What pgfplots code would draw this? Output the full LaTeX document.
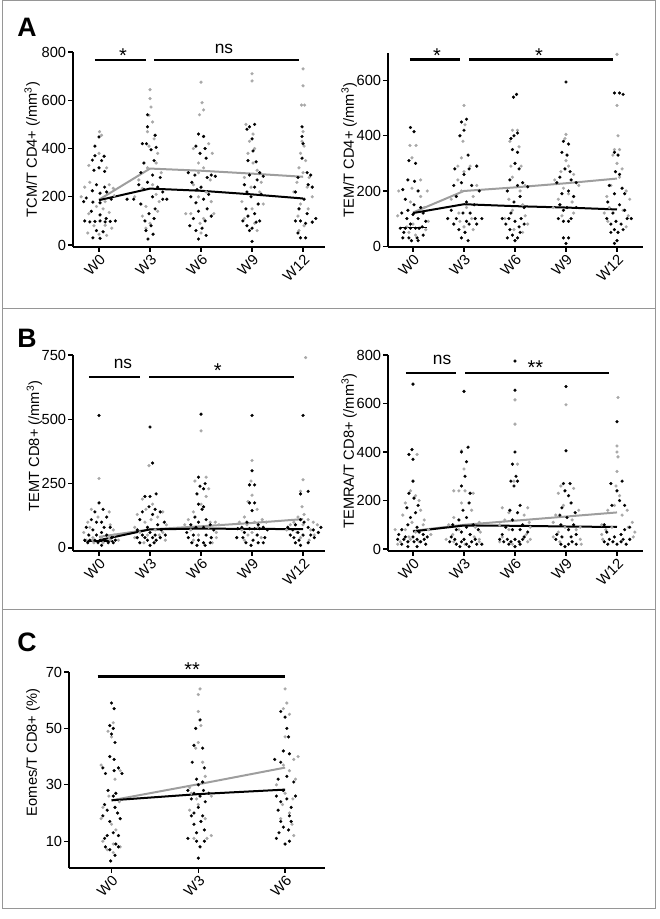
\documentclass[border=0pt]{standalone}
\usepackage{pgfplots}
\pgfplotsset{compat=1.18}
\usepackage{fontspec}
\setmainfont{Liberation Sans}
\definecolor{dotgray}{RGB}{168,168,168}
\definecolor{linegray}{RGB}{158,158,158}
\definecolor{framegray}{RGB}{150,150,150}
\pgfplotsset{
  beeswarm/.style={
    scale only axis,
    axis x line=bottom, axis y line=left,
    axis line style={line width=1pt, -},
    tick style={black, line width=0.9pt},
    tick align=outside, major tick length=3.5pt,
    xtick={0,1,2,3,4}, xticklabels={W0,W3,W6,W9,W12},
    xticklabel style={rotate=45, anchor=north east, inner sep=1pt, font=\fontsize{11}{13}\selectfont},
    yticklabel style={font=\fontsize{11}{13}\selectfont, inner sep=1.5pt},
    /pgf/number format/assume math mode=true,
    ylabel style={font=\fontsize{11}{13}\selectfont, anchor=center},
    clip=false,
  },
  blk/.style={only marks, color=black, mark=*, mark size=1.1pt, mark options={draw=black, fill=black, line width=0.2pt}},
  gry/.style={only marks, color=dotgray, mark=*, mark size=1.1pt, mark options={draw=dotgray, fill=dotgray, line width=0.2pt}},
  blkline/.style={black, line width=1.5pt, no marks},
  gryline/.style={linegray, line width=1.5pt, no marks},
}
\newcommand{\sig}{\fontsize{15}{15}\selectfont}
\newcommand{\nsf}{\fontsize{13}{13}\selectfont}
\begin{document}
\begin{tikzpicture}
\useasboundingbox (0,0) rectangle (494.25pt,-689.25pt);
% frame
\draw[framegray, line width=0.75pt] (1.5pt,-0.75pt) rectangle (491.25pt,-681pt);
\draw[framegray, line width=0.75pt] (1.5pt,-231.75pt) -- (491.25pt,-231.75pt);
\draw[framegray, line width=0.75pt] (1.5pt,-456.75pt) -- (491.25pt,-456.75pt);
% panel letters
\node[anchor=base west, inner sep=0pt, font=\fontsize{20}{20}\selectfont\bfseries] at (12.75pt,-27.75pt) {A};
\node[anchor=base west, inner sep=0pt, font=\fontsize{20}{20}\selectfont\bfseries] at (12.75pt,-260.25pt) {B};
\node[anchor=base west, inner sep=0pt, font=\fontsize{20}{20}\selectfont\bfseries] at (12.75pt,-488.6pt) {C};

% ---------------- A left ----------------
\begin{axis}[beeswarm, at={(54.75pt,-185.25pt)}, anchor=south west,
  width=189pt, height=146.25pt, xmin=-0.51, xmax=4.43, ymin=-8, ymax=800,
  ytick={0,200,400,600,800},
  ylabel={TCM/T CD4+ (/mm\textsuperscript{3})},
  ylabel style={at={(axis description cs:-0.162,0.5)}}]
\addplot[gry] coordinates {
(0.01,470) (0.05,455) (0,380) (-0.2,330) (0.15,320) (-0.18,260) (0.2,250) (-0.28,240) (0.28,235) (-0.35,200) (0.3,205) (0.12,180) (-0.05,160) (0.08,150) (-0.2,130) (0.2,135) (-0.1,80) (0.12,82) (0.25,70) (-0.22,50) (0.15,40) (0,45)
(1,644) (1,607) (1.02,572) (0.98,538) (1.05,510) (0.95,470) (1.08,440) (0.98,410) (1.15,380) (1.12,340) (0.95,320) (1.22,300) (0.78,270) (1.05,250) (0.85,235) (1.12,210) (0.7,200) (1.18,180) (0.92,160) (1.15,140) (0.85,120) (1,90) (0.92,70)
(2,675) (2.02,590) (2.05,560) (1.97,540) (2.05,450) (2.15,420) (1.85,400) (2.22,380) (1.95,340) (2.05,320) (1.95,300) (2.18,270) (1.85,250) (2.1,220) (1.95,200) (2.2,180) (1.7,130) (1.8,130) (2.25,130) (2.05,110) (1.98,90) (2,50)
(3,710) (3,680) (2.88,500) (3.02,460) (2.95,430) (3.05,400) (2.92,380) (3.02,340) (3.1,310) (2.85,280) (3.18,260) (2.98,240) (3.15,220) (2.8,180) (3.22,170) (3,150) (2.85,110) (3.05,90) (3.1,60)
(4,730) (4,660) (3.97,580) (4.03,580) (4,470) (3.98,430) (4.02,410) (3.95,380) (4.05,350) (3.92,320) (4,300) (4.12,280) (3.88,260) (4.08,240) (3.82,220) (4.18,200) (3.95,170) (4.1,150) (3.9,120) (4.02,80) (3.92,60)
};
\addplot[blk] coordinates {
(0,448) (-0.08,410) (-0.08,370) (0.1,368) (0.05,350) (-0.13,352) (0,320) (-0.1,310) (0.11,305) (-0.05,250) (0.11,240) (-0.13,225) (0.02,215) (0.15,220) (-0.25,195) (-0.3,180) (0.24,190) (-0.12,178) (0.02,175) (-0.15,140) (0.02,125) (0.14,110) (-0.28,100) (-0.18,96) (-0.08,98) (0.02,100) (0.12,96) (0.22,98) (0.32,100) (-0.05,60) (0.08,55) (-0.12,30) (0.02,28)
(0.95,540) (0.95,490) (1.1,455) (0.85,420) (0.93,420) (1.12,405) (1.02,395) (1.08,350) (0.88,340) (0.82,300) (1.05,290) (1.2,280) (0.95,260) (0.78,250) (1.15,240) (0.88,230) (1.25,220) (1.05,200) (0.55,190) (0.68,190) (1.25,190) (1.33,190) (0.82,170) (1.1,150) (0.98,130) (1.08,110) (0.9,100) (1.02,80) (0.92,60) (1.06,45) (0.96,25)
(1.95,460) (2.05,450) (1.9,410) (2.08,400) (1.98,380) (2.1,360) (1.75,300) (1.88,290) (2.2,290) (2.28,285) (2.12,280) (1.82,260) (2,240) (1.92,230) (2.15,210) (1.8,200) (2.05,190) (1.9,175) (2.12,150) (1.95,140) (2.2,120) (1.85,110) (2.08,100) (1.78,80) (2.02,70) (1.9,60) (2.1,40) (1.95,25)
(3.05,500) (2.95,490) (2.9,480) (3,440) (3.02,390) (2.92,350) (3.08,345) (3.15,300) (2.95,290) (3.22,285) (3.1,270) (2.85,250) (3.05,240) (2.9,220) (3.18,210) (2.98,200) (3.12,170) (2.88,150) (3.05,130) (2.92,120) (2.82,100) (3.08,95) (3.15,100) (2.9,80) (3,70) (2.95,60) (3,15)
(3.98,490) (3.98,450) (4,420) (3.98,360) (4.08,300) (4.15,290) (3.9,280) (4.1,250) (4.18,240) (3.85,220) (4.02,190) (3.92,150) (4.08,130) (4.25,110) (3.85,100) (3.95,100) (4.18,95) (4.05,90) (3.9,50) (3.95,30) (4.05,30)
};
\addplot[gryline] coordinates {(0,188) (1,317) (2,308) (3,296) (4,283)};
\addplot[blkline] coordinates {(0,186) (1,234) (2,225) (3,210) (4,193)};
\draw[line width=2pt] (axis cs:-0.08,767) -- (axis cs:0.92,767);
\draw[line width=2pt] (axis cs:1.08,767) -- (axis cs:3.92,767);
\node[anchor=base, inner sep=0pt, font=\sig] at (axis cs:0.47,756) {*};
\node[anchor=base, inner sep=0pt, font=\nsf] at (axis cs:2.45,792) {ns};
\end{axis}

% ---------------- A right ----------------
\begin{axis}[beeswarm, at={(291pt,-185.25pt)}, anchor=south west,
  width=191.25pt, height=145.5pt, xmin=-0.49, xmax=4.51, ymin=-3, ymax=700,
  ytick={0,200,400,600},
  ylabel={TEM/T CD4+ (/mm\textsuperscript{3})},
  ylabel style={at={(axis description cs:-0.152,0.5)}}]
\addplot[gry] coordinates {
(-0.06,365) (0.06,365) (-0.02,320) (0.15,240) (-0.02,210) (-0.28,200) (0.28,200) (0.15,180) (-0.05,160) (0.22,140) (-0.3,110) (0.3,90) (0,80) (-0.12,70) (0.25,60) (-0.08,50) (0.05,40)
(1,510) (1.02,440) (0.98,380) (0.95,320) (0.88,290) (1.12,290) (1,270) (0.88,240) (1.25,220) (0.95,200) (1.18,180) (0.75,170) (1.05,140) (0.9,120) (1.15,100) (0.92,90) (1,70) (1.18,60)
(1.95,420) (2.05,420) (1.9,380) (2.08,360) (1.92,290) (2.12,290) (1.95,250) (2.2,220) (2.1,200) (1.88,170) (2.15,150) (1.95,130) (2.2,110) (1.8,100) (2.25,80) (1.98,60) (2.15,50)
(3,405) (2.98,390) (3,310) (3.05,290) (2.9,270) (3.15,260) (2.78,240) (3.25,220) (2.95,210) (3.05,190) (2.85,170) (3.12,160) (2.75,140) (3.15,120) (2.92,110)
(4,695) (4,510) (4.02,400) (3.95,350) (4.05,350) (3.92,330) (4,300) (4.1,280) (4.05,250) (3.88,220) (4.18,200) (3.8,180) (4.25,170) (3.85,140) (4.12,130) (3.75,120) (4.22,110) (3.82,90) (4.18,70)
};
\addplot[blk] coordinates {
(-0.05,430) (0.02,415) (-0.08,310) (0.05,300) (-0.1,240) (0.03,235) (-0.2,205) (0.1,200) (-0.15,170) (0.02,150) (0.15,140) (-0.1,130) (-0.22,120) (0.2,120) (0,115) (-0.12,100) (0.1,100) (0.25,90) (-0.05,80) (0.18,70) (-0.25,65) (-0.15,65) (-0.05,65) (0.05,65) (0.12,65) (-0.18,50) (0.2,40) (-0.2,30) (-0.08,30) (0.08,30) (-0.03,20) (0.1,20)
(1.05,460) (0.95,450) (1,420) (0.92,400) (1.08,330) (1.25,290) (0.82,280) (1.1,280) (1,260) (0.95,230) (0.8,220) (1.15,220) (1.3,200) (0.85,180) (1.05,160) (1.2,150) (0.75,130) (0.98,120) (1.12,120) (0.68,100) (0.85,100) (1.22,100) (1.35,100) (1.05,90) (0.8,80) (1.1,80) (1.25,80) (0.9,60) (1.02,50) (0.95,30) (1.08,20)
(2.03,550) (1.97,540) (2.05,410) (1.98,400) (1.92,390) (1.95,350) (2.05,340) (2,300) (2.08,280) (1.9,240) (2.15,230) (2.05,220) (2.25,215) (1.85,200) (2.1,180) (1.98,160) (2.18,140) (1.92,120) (1.75,100) (1.88,100) (2.12,100) (2,90) (1.82,80) (2.18,80) (2.08,70) (1.9,60) (2.1,50) (1.95,40) (1.85,30) (2.05,30) (2,20)
(3,595) (2.95,380) (3.05,370) (2.92,340) (3.02,330) (2.98,280) (3.08,270) (2.88,250) (3.1,240) (2.82,230) (3.2,230) (3.05,200) (2.92,190) (3.15,180) (2.88,150) (3.02,140) (3.2,140) (2.95,130) (2.85,100) (3.1,100) (2.95,90) (3.05,90) (2.95,30) (3.05,30) (3,10)
(3.95,555) (4.05,555) (4.12,550) (3.95,340) (4.02,330) (3.97,270) (4.05,260) (3.85,220) (4.1,210) (3.95,190) (4.15,190) (3.82,160) (4.05,150) (4.15,130) (3.92,120) (3.8,100) (4.2,100) (4.28,100) (3.98,90) (3.88,80) (4.08,80) (3.95,60) (4.12,60) (3.88,50) (4.02,50) (4,20) (3.95,10)
};
\addplot[blkline, line width=1.2pt] coordinates {(-0.25,67) (0.28,67)};
\addplot[gryline] coordinates {(0,122) (1,200) (2,213) (3,228) (4,245)};
\addplot[blkline] coordinates {(0,120) (1,152) (2,145) (3,140) (4,133)};
\draw[line width=2pt] (axis cs:-0.06,676) -- (axis cs:0.92,676);
\draw[line width=2pt] (axis cs:1.1,676) -- (axis cs:3.92,676);
\node[anchor=base, inner sep=0pt, font=\sig] at (axis cs:0.47,665) {*};
\node[anchor=base, inner sep=0pt, font=\sig] at (axis cs:2.47,665) {*};
\end{axis}

% ---------------- B left ----------------
\begin{axis}[beeswarm, at={(54.75pt,-413.25pt)}, anchor=south west,
  width=189pt, height=147pt, xmin=-0.51, xmax=4.43, ymin=-12, ymax=750,
  ytick={0,250,500,750},
  ylabel={TEMT CD8+ (/mm\textsuperscript{3})},
  ylabel style={at={(axis description cs:-0.153,0.536)}}]
\addplot[gry] coordinates {
(0,270) (-0.15,150) (0.2,140) (-0.02,120) (-0.22,100) (0.22,90) (-0.18,80) (0.28,70) (-0.3,60) (0.3,50) (-0.12,40) (0.05,40) (0.2,40) (-0.25,30) (-0.13,30) (0.22,30) (0.38,30) (0.08,20) (-0.1,20)
(0.98,320) (0.85,190) (1.05,170) (0.92,150) (1.25,140) (0.75,130) (1.15,120) (1.02,110) (0.9,100) (1.32,90) (0.7,80) (1.1,70) (0.8,60) (1.25,60) (0.95,50) (1.18,50) (0.7,40) (1.3,30) (0.88,20)
(2,455) (2.1,275) (1.88,260) (2.15,230) (2.1,200) (2,170) (1.85,140) (1.75,110) (2.28,100) (2.18,100) (1.68,90) (2.35,90) (2.15,80) (1.8,70) (2.3,60) (1.95,50) (2.3,40) (1.85,30) (2.22,20)
(3,340) (2.98,260) (3,205) (2.92,180) (3.1,150) (2.85,120) (3.2,110) (2.75,100) (3.28,100) (3.05,100) (2.9,90) (3.12,80) (2.8,70) (3,60) (2.92,50) (3.18,40) (2.85,30)
(4.05,740) (4,265) (3.95,220) (3.98,160) (4.02,130) (3.9,120) (4.1,110) (3.82,100) (4.2,100) (3.75,90) (4,90) (4.28,90) (4.35,80) (3.68,70) (4.15,70) (3.88,60) (4.22,50) (3.95,40) (4.12,30)
};
\addplot[blk] coordinates {
(0,515) (0,175) (0.08,150) (-0.08,140) (0.15,120) (-0.15,110) (0.05,100) (-0.05,100) (-0.25,80) (0.1,80) (0.22,80) (-0.12,70) (0.05,60) (-0.2,50) (0.15,50) (-0.05,50) (0.25,40) (-0.28,30) (-0.18,30) (-0.08,30) (0.02,30) (0.12,30) (0.32,30) (-0.22,20) (-0.02,20) (0.18,20) (0.28,20) (0.05,10)
(1,470) (1.05,330) (1.12,210) (0.9,200) (1,200) (0.98,160) (1.1,150) (0.85,140) (1.2,140) (1.05,130) (0.8,110) (1.28,100) (1.15,90) (0.95,80) (0.75,70) (1.22,70) (1,60) (0.85,50) (1.1,50) (1.3,50) (0.75,40) (0.9,40) (1.05,40) (1.2,40) (0.95,30) (1.12,30) (0.8,20) (1.08,20) (1,10)
(2,520) (1.95,275) (2.08,250) (1.98,240) (2.05,230) (1.92,210) (1.95,170) (2.05,160) (2.02,150) (1.88,120) (2.1,110) (1.95,100) (1.8,90) (2.18,90) (1.9,80) (2.05,80) (2.25,70) (1.72,60) (1.85,50) (2.1,50) (1.75,40) (2.2,40) (1.95,30) (1.82,20) (2.05,20) (2.18,20) (1.92,10) (2.08,10)
(3,515) (3,300) (2.95,245) (3.05,245) (2.95,175) (3.05,175) (3,145) (2.9,100) (3.12,90) (2.8,80) (3.22,80) (2.72,75) (2.95,75) (3.05,75) (3.15,75) (3.3,70) (2.85,60) (3.1,50) (2.7,40) (2.82,40) (3.25,40) (3.02,30) (2.88,20) (3.12,20) (3.22,20) (2.98,10)
(4,515) (4.1,220) (3.95,210) (3.95,110) (4.02,100) (3.85,90) (3.7,80) (4.1,80) (4.35,80) (3.8,70) (4.2,70) (3.9,60) (4.3,60) (3.75,50) (4,50) (4.15,50) (3.82,40) (4.22,40) (3.92,30) (3.85,20) (4.1,20) (3.95,10)
};
\addplot[blkline, line width=1.2pt] coordinates {(-0.3,26) (0.27,26)};
\addplot[gryline] coordinates {(0,43) (1,72) (2,84) (3,97) (4,112)};
\addplot[blkline] coordinates {(0,30) (1,72) (2,75) (3,74) (4,73)};
\draw[line width=2pt] (axis cs:-0.2,664) -- (axis cs:0.8,664);
\draw[line width=2pt] (axis cs:0.98,664) -- (axis cs:3.82,664);
\node[anchor=base, inner sep=0pt, font=\nsf] at (axis cs:0.47,698) {ns};
\node[anchor=base, inner sep=0pt, font=\sig] at (axis cs:2.33,663) {*};
\end{axis}

% ---------------- B right ----------------
\begin{axis}[beeswarm, at={(291pt,-413.25pt)}, anchor=south west,
  width=191.25pt, height=147pt, xmin=-0.49, xmax=4.51, ymin=-8, ymax=800,
  ytick={0,200,400,600,800},
  ylabel={TEMRA/T CD8+ (/mm\textsuperscript{3})},
  ylabel style={at={(axis description cs:-0.152,0.51)}}]
\addplot[gry] coordinates {
(0.08,390) (-0.05,240) (0.05,220) (0.12,200) (-0.15,190) (0.15,160) (-0.2,140) (0.22,120) (-0.02,110) (0.2,100) (-0.35,80) (-0.15,80) (0.3,80) (0.05,70) (0.35,60) (-0.08,50) (-0.05,40) (-0.25,30) (0.12,30) (-0.3,20)
(0.95,405) (1,330) (0.8,240) (0.9,240) (1.02,240) (1.18,230) (0.95,190) (1.15,160) (0.8,130) (1.3,110) (0.7,100) (1.22,90) (0.9,80) (1.32,70) (0.78,60) (1.2,50) (0.65,40) (1.3,40) (0.8,30) (1.3,30) (1.02,20)
(2,615) (2,515) (2.05,350) (1.98,280) (1.75,170) (2.25,170) (1.88,150) (2.18,140) (1.8,120) (2.28,110) (1.7,100) (2.3,90) (1.88,80) (2.22,60) (1.75,50) (2.3,40) (1.7,30) (2.25,30) (1.95,20)
(3,595) (2.9,260) (3.15,250) (2.85,230) (2.95,180) (3.25,160) (2.8,140) (3.12,120) (2.75,110) (3.28,90) (2.98,90) (3.2,80) (2.85,70) (2.75,50) (3.28,40) (2.88,30) (3.3,20)
(4.02,625) (4,425) (4,400) (4.02,380) (4,320) (3.98,260) (4.05,220) (3.95,180) (3.82,160) (4.2,160) (4.1,140) (4.3,110) (3.7,100) (4.22,90) (3.9,90) (3.78,80) (4.35,70) (3.7,60) (4.32,50) (3.72,40)
};
\addplot[blk] coordinates {
(0,680) (-0.02,410) (-0.08,390) (0,370) (0,280) (-0.08,230) (0.02,210) (0.1,180) (-0.12,170) (0.05,150) (-0.05,130) (-0.1,100) (0.08,90) (-0.22,80) (0.12,70) (-0.28,60) (0.2,60) (-0.15,50) (0,50) (0.28,50) (-0.3,40) (-0.18,40) (0.08,40) (0.22,40) (-0.1,30) (0.02,30) (0.15,30) (-0.22,20) (0.25,20) (-0.1,10) (0.08,10)
(1,650) (1.08,420) (0.95,400) (1.05,360) (1.02,300) (0.95,260) (1.12,230) (1.1,190) (0.98,160) (1.05,130) (0.9,120) (0.78,100) (1.18,100) (1.05,90) (0.85,80) (1.28,80) (0.95,70) (1.12,60) (0.75,50) (0.82,40) (1,40) (1.22,40) (0.72,30) (0.95,30) (1.15,30) (0.85,20) (1.05,20) (1.25,20) (1.35,20) (0.92,10) (1.1,10)
(2,775) (2,655) (2,400) (1.95,350) (2.02,300) (1.92,280) (2.05,280) (1.98,260) (2.1,180) (1.9,160) (2.05,150) (1.95,120) (2.15,100) (1.82,90) (1.95,80) (2.1,80) (2.25,70) (1.75,60) (2.18,50) (1.7,40) (1.85,40) (2,40) (2.15,40) (1.78,30) (1.92,30) (2.08,30) (1.88,20) (2.1,20) (2,10)
(3,670) (3,405) (2.95,270) (3.08,270) (2.98,240) (3.05,220) (3.1,190) (2.92,170) (3.18,150) (2.88,140) (3.02,130) (2.9,100) (3.15,100) (3.05,80) (2.82,60) (3.2,60) (2.92,50) (3.1,50) (2.8,40) (3.12,30) (2.9,20) (3.05,20) (3.2,20) (2.98,10)
(4,525) (4.1,280) (3.88,270) (4,240) (4.05,200) (3.9,180) (4.15,180) (3.75,100) (4.25,90) (4.15,80) (3.8,70) (4.08,60) (3.95,50) (3.85,40) (4.12,40) (4.25,40) (3.75,30) (3.92,30) (4.08,30) (3.82,20) (4,20) (4.18,20)
};
\addplot[gryline] coordinates {(0,75) (1,100) (2,117) (3,134) (4,151)};
\addplot[blkline] coordinates {(0,73) (1,97) (2,96) (3,93) (4,91)};
\draw[line width=2pt] (axis cs:-0.14,726) -- (axis cs:0.84,726);
\draw[line width=2pt] (axis cs:1.02,726) -- (axis cs:3.84,726);
\node[anchor=base, inner sep=0pt, font=\nsf] at (axis cs:0.57,759) {ns};
\node[anchor=base, inner sep=0pt, font=\sig] at (axis cs:2.4,719) {**};
\end{axis}

% ---------------- C ----------------
\begin{axis}[beeswarm, at={(51.75pt,-651pt)}, anchor=south west,
  width=192pt, height=147pt, xmin=-0.49, xmax=2.46, ymin=0.5, ymax=70,
  xtick={0,1,2}, xticklabels={W0,W3,W6},
  ytick={10,30,50,70},
  ylabel={Eomes/T CD8+ (\%)},
  ylabel style={at={(axis description cs:-0.14,0.59)}}]
\addplot[gry] coordinates {
(0.02,52) (-0.04,49) (0,47) (-0.12,37) (0.1,35) (0.04,32) (-0.03,26) (0.09,24) (-0.1,22) (-0.12,18) (0,16) (0.05,14) (-0.1,10) (0.02,9) (0.1,8) (-0.05,7) (0.02,6)
(1.02,64) (1,62) (1,56) (1.03,51) (1,45) (0.97,43) (1.05,38) (1.08,33) (0.9,29) (1.12,27) (0.92,27) (1.15,26) (0.98,25) (1,23) (0.9,21) (1.08,18) (1.15,12) (0.95,11) (1.1,11)
(2,64) (2.02,59) (1.98,57) (2.05,55) (2,47) (2.15,40) (2.1,39) (1.98,37) (2.05,35) (2.12,32) (1.9,30) (2,27) (2.09,25) (1.97,23) (2.05,20) (1.95,18) (2.08,16) (2.1,12)
};
\addplot[blk] coordinates {
(0,59) (0.03,57) (-0.02,51) (0.02,50) (0,48) (0.04,45) (-0.02,40) (0.03,39) (-0.1,36) (0.08,36) (0.03,35) (-0.07,34) (0.12,34) (-0.04,28) (0.05,27) (0.02,26) (-0.08,23) (0.04,22) (-0.05,21) (0.07,20) (-0.1,19) (0.1,18) (-0.02,17) (0.02,13) (-0.05,12) (0.08,12) (-0.08,11) (0.05,9) (-0.07,8) (0.08,8) (-0.02,7) (0.04,5) (-0.01,3)
(1.02,53) (0.97,50) (0.95,44) (1.05,43) (0.93,38) (1.07,36) (0.98,32) (1.05,31) (1,30) (0.88,28) (1.06,28) (0.95,27) (1.12,27) (1.02,26) (0.92,25) (1.08,24) (1,22) (0.95,20) (0.92,19) (1.05,19) (1.03,17) (0.95,16) (1.07,14) (0.98,13) (0.88,11) (0.98,10) (1.07,10) (1.02,8) (1,4)
(1.95,56) (2,54) (2.02,50) (2.04,47) (1.98,42) (2.05,41) (1.88,39) (1.95,38) (2.02,33) (1.92,32) (2.1,31) (1.98,28) (1.9,26) (2.12,26) (2.02,25) (1.95,24) (2.07,22) (1.92,21) (2.05,19) (1.95,17) (2.07,17) (1.98,15) (2.04,14) (1.93,13) (1.9,11) (2.05,10) (2,9)
};
\addplot[gryline] coordinates {(0,24.5) (1,30.2) (2,36.1)};
\addplot[blkline] coordinates {(0,24.5) (1,26.7) (2,28.3)};
\draw[line width=2pt] (axis cs:-0.16,68.5) -- (axis cs:2.0,68.5);
\node[anchor=base, inner sep=0pt, font=\sig] at (axis cs:0.93,68.3) {**};
\end{axis}
\end{tikzpicture}
\end{document}
